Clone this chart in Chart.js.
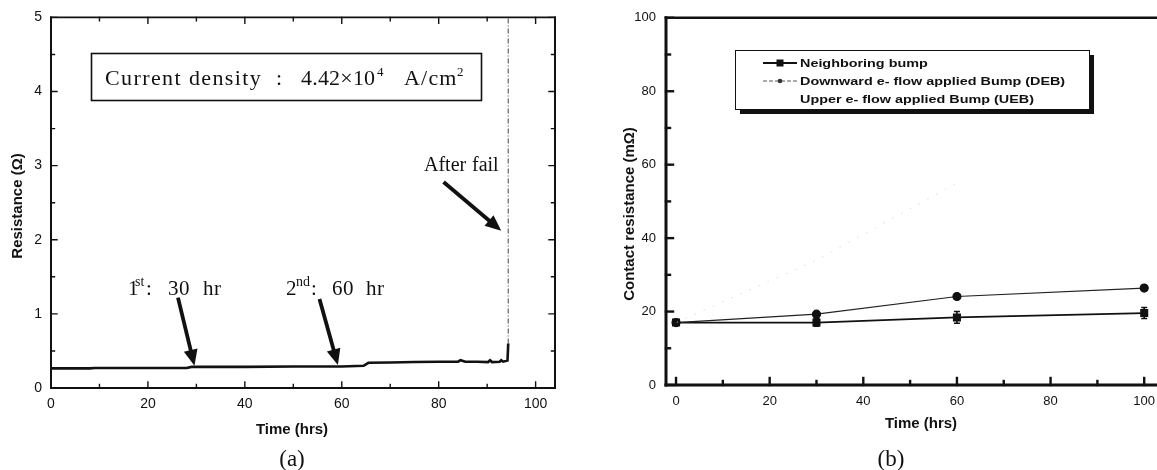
<!DOCTYPE html>
<html><head><meta charset="utf-8">
<script src="https://cdn.jsdelivr.net/npm/chart.js@4.4.1/dist/chart.umd.min.js"></script>
<style>
html,body{margin:0;padding:0;background:#fff;}
#wrap{position:relative;width:1157px;height:470px;overflow:hidden;background:#fff;}
canvas{position:absolute;top:0;}
#ca{left:0;} #cb{left:580px;}
</style></head><body>
<div id="wrap"><canvas id="ca" width="580" height="470"></canvas><canvas id="cb" width="600" height="470"></canvas></div>
<script>
// ---------- data: panel (a) ----------
const timeA = [0, 8, 9, 28, 29, 40, 50, 60, 64.5, 65.5, 70, 75, 80, 84, 84.5, 85.5, 88, 90.2, 90.6, 91, 92.6, 92.9, 93.3, 94.2, 94.35];
const resistanceA = [0.265, 0.265, 0.27, 0.27, 0.285, 0.285, 0.29, 0.29, 0.30, 0.34, 0.345, 0.35, 0.355, 0.355, 0.375, 0.355, 0.355, 0.35, 0.375, 0.35, 0.355, 0.375, 0.355, 0.37, 0.6];
const failTimeA = [94.35, 94.35];
const failResA = [0.6, 5.0];
const xTicksA = [0, 20, 40, 60, 80, 100];
const xMinorA = [10, 30, 50, 70, 90];
const yTicksA = [0, 1, 2, 3, 4, 5];
const yMinorA = [0.5, 1.5, 2.5, 3.5, 4.5];

// ---------- data: panel (b) ----------
const hoursB = [0, 30, 60, 100];
const neighborB = [17, 17, 18.4, 19.6];
const neighborErrB = [0.6, 1.0, 1.6, 1.5];
const debB = [17, 19.3, 24.1, 26.4];
const uebB = [17, 34, 55, null];
const xTicksB = [0, 20, 40, 60, 80, 100];
const xMinorB = [10, 30, 50, 70, 90];
const yTicksB = [0, 20, 40, 60, 80, 100];
const yMinorB = [10, 30, 50, 70, 90];
const seriesNamesB = ['Neighboring bump', 'Downward e- flow applied Bump (DEB)', 'Upper e- flow applied Bump (UEB)'];

const SANS = "'Liberation Sans', Arial, sans-serif";
const SERIF = "'Liberation Serif', 'DejaVu Serif', serif";
const INK = '#111';

function pts(xs, ys) { return xs.map((x, i) => ({x, y: ys[i]})); }

// place text pieces: [text, x, sup, spacing]
function pieces(ctx, list, baseline, size, supScale) {
  ctx.textBaseline = 'alphabetic';
  ctx.textAlign = 'left';
  for (const [t, x, sup, sp] of list) {
    const fs = sup ? Math.round(size * (supScale || 0.62)) : size;
    ctx.font = fs + 'px ' + SERIF;
    ctx.letterSpacing = (sp || 0) + 'px';
    ctx.fillText(t, x, sup ? baseline - size * 0.42 : baseline);
  }
  ctx.letterSpacing = '0px';
}

function arrow(ctx, x0, y0, x1, y1, lw, hl, hw) {
  const ang = Math.atan2(y1 - y0, x1 - x0);
  const bx = x1 - Math.cos(ang) * hl, by = y1 - Math.sin(ang) * hl;
  ctx.save();
  ctx.strokeStyle = INK; ctx.fillStyle = INK; ctx.lineWidth = lw; ctx.lineCap = 'butt';
  ctx.beginPath(); ctx.moveTo(x0, y0); ctx.lineTo(bx + Math.cos(ang) * 2, by + Math.sin(ang) * 2); ctx.stroke();
  ctx.beginPath();
  ctx.moveTo(x1, y1);
  ctx.lineTo(bx + Math.sin(ang) * hw, by - Math.cos(ang) * hw);
  ctx.lineTo(bx - Math.sin(ang) * hw, by + Math.cos(ang) * hw);
  ctx.closePath(); ctx.fill();
  ctx.restore();
}

// frame + inward ticks
const framePlugin = {
  id: 'frame',
  afterDatasetsDraw(chart, args, o) {
    const {ctx, chartArea: a, scales: {x, y}} = chart;
    ctx.save();
    ctx.strokeStyle = INK;
    ctx.lineCap = 'square';
    const tick = (axis, v, len, lw) => {
      ctx.lineWidth = lw;
      ctx.beginPath();
      if (axis === 'x') {
        const p = x.getPixelForValue(v);
        if (o.sides.includes('b')) { ctx.moveTo(p, a.bottom); ctx.lineTo(p, a.bottom - len); }
        if (o.sides.includes('t')) { ctx.moveTo(p, a.top); ctx.lineTo(p, a.top + len); }
      } else {
        const p = y.getPixelForValue(v);
        if (o.sides.includes('l')) { ctx.moveTo(a.left, p); ctx.lineTo(a.left + len, p); }
        if (o.sides.includes('r')) { ctx.moveTo(a.right, p); ctx.lineTo(a.right - len, p); }
      }
      ctx.stroke();
    };
    o.xMajor.forEach(v => tick('x', v, o.major, o.tickW));
    o.xMinor.forEach(v => tick('x', v, o.minor, o.tickW));
    o.yMajor.forEach(v => tick('y', v, o.major, o.tickW));
    o.yMinor.forEach(v => tick('y', v, o.minor, o.tickW));
    const side = (x0, y0, x1, y1, lw) => { ctx.lineWidth = lw; ctx.beginPath(); ctx.moveTo(x0, y0); ctx.lineTo(x1, y1); ctx.stroke(); };
    side(a.left, a.top, a.right, a.top, o.frame.t);
    side(a.right, a.top, a.right, a.bottom, o.frame.r);
    side(a.left, a.bottom, a.right, a.bottom, o.frame.b);
    side(a.left, a.top, a.left, a.bottom, o.frame.l);
    ctx.restore();
  }
};

// axis titles and panel labels
const labelsPlugin = {
  id: 'labels',
  afterDraw(chart, args, o) {
    const {ctx} = chart;
    ctx.save();
    ctx.fillStyle = INK;
    ctx.font = 'bold 15px ' + SANS;
    ctx.textAlign = 'center'; ctx.textBaseline = 'middle';
    ctx.fillText(o.xTitle, o.xTitlePos[0], o.xTitlePos[1]);
    ctx.save();
    ctx.translate(o.yTitlePos[0], o.yTitlePos[1]);
    ctx.rotate(-Math.PI / 2);
    ctx.fillText(o.yTitle, 0, 0);
    ctx.restore();
    ctx.font = '23px ' + SERIF;
    ctx.fillText(o.panel, o.panelPos[0], o.panelPos[1]);
    ctx.restore();
  }
};

// ---------- panel (a) annotations ----------
const annotA = {
  id: 'annotA',
  afterDraw(chart) {
    const {ctx, scales: {x, y}} = chart;
    ctx.save();
    ctx.fillStyle = INK; ctx.strokeStyle = INK;
    // text box
    ctx.lineWidth = 1.6;
    ctx.strokeRect(91.5, 53.5, 390, 47);
    pieces(ctx, [['Current density', 105, false, 1.4], [':', 276], ['4.42\u00d710', 301, false, 0.2], ['4', 377, true], ['A/cm', 404, false, 1.2], ['2', 457, true]], 85, 22, 0.6);
    // labels
    pieces(ctx, [['1', 128], ['st', 135, true], [':', 146], ['30', 168, false, 0.5], ['hr', 203, false, 0.5]], 295, 21, 0.66);
    pieces(ctx, [['2', 286], ['nd', 296, true], [':', 311], ['60', 332, false, 0.5], ['hr', 366, false, 0.5]], 295, 21, 0.66);
    pieces(ctx, [['After', 424], ['fail', 472]], 171, 20);
    // arrows (data coordinates)
    const A = (x0, y0, x1, y1) => arrow(ctx, x.getPixelForValue(x0), y.getPixelForValue(y0), x.getPixelForValue(x1), y.getPixelForValue(y1), 3.8, 16, 7);
    A(26.2, 1.22, 29.6, 0.30);
    A(55.4, 1.20, 59.2, 0.31);
    A(81.0, 2.78, 92.9, 2.12);
    ctx.restore();
  }
};

const chartA = new Chart(document.getElementById('ca'), {
  type: 'scatter',
  data: {
    datasets: [
      {label: 'Resistance', data: pts(timeA, resistanceA), showLine: true, borderColor: INK, borderWidth: 2.6, pointRadius: 0, tension: 0},
      {label: 'After fail', data: pts(failTimeA, failResA), showLine: true, borderColor: '#555', borderWidth: 1.1, borderDash: [5, 2, 1, 2], pointRadius: 0}
    ]
  },
  options: {
    responsive: false, animation: false, devicePixelRatio: 1,
    layout: {padding: {left: 0, right: 25, top: 16, bottom: 0}},
    plugins: {
      legend: {display: false}, tooltip: {enabled: false},
      frame: {sides: 'btlr', xMajor: xTicksA, xMinor: xMinorA, yMajor: yTicksA, yMinor: yMinorA, major: 6, minor: 3.5, tickW: 1.4, frame: {t: 1.6, r: 2, b: 2, l: 2}},
      labels: {xTitle: 'Time (hrs)', xTitlePos: [292, 430], yTitle: 'Resistance (\u03a9)', yTitlePos: [18, 206], panel: '(a)', panelPos: [292, 460]}
    },
    scales: {
      x: {type: 'linear', min: 0, max: 104,
        grid: {display: false, drawTicks: false}, border: {display: false},
        ticks: {color: INK, font: {family: SANS, size: 14}, padding: 8},
        afterBuildTicks: s => { s.ticks = xTicksA.map(v => ({value: v})); },
        afterFit: s => { s.height = 82; }},
      y: {type: 'linear', min: 0, max: 5,
        grid: {display: false, drawTicks: false}, border: {display: false},
        ticks: {color: INK, font: {family: SANS, size: 14}, padding: 9},
        afterBuildTicks: s => { s.ticks = yTicksA.map(v => ({value: v})); },
        afterFit: s => { s.width = 51; }}
    }
  },
  plugins: [framePlugin, labelsPlugin, annotA]
});

// ---------- panel (b) ----------
const errBarsB = {
  id: 'errBarsB',
  afterDatasetsDraw(chart) {
    const {ctx, scales: {x, y}} = chart;
    ctx.save();
    ctx.strokeStyle = INK; ctx.lineWidth = 1.6;
    hoursB.forEach((h, i) => {
      const px = x.getPixelForValue(h);
      const y0 = y.getPixelForValue(neighborB[i] - neighborErrB[i]);
      const y1 = y.getPixelForValue(neighborB[i] + neighborErrB[i]);
      ctx.beginPath();
      ctx.moveTo(px, y0); ctx.lineTo(px, y1);
      ctx.moveTo(px - 3, y0); ctx.lineTo(px + 3, y0);
      ctx.moveTo(px - 3, y1); ctx.lineTo(px + 3, y1);
      ctx.stroke();
    });
    ctx.restore();
  }
};

const legendB = {
  id: 'legendB',
  afterDraw(chart) {
    const {ctx} = chart;
    const L = 155, T = 50, W = 354, H = 59;
    ctx.save();
    ctx.fillStyle = INK;
    ctx.fillRect(L + 5, T + H, W, 5);
    ctx.fillRect(L + W, T + 5, 5, H);
    ctx.fillStyle = '#fff';
    ctx.fillRect(L, T, W, H);
    ctx.strokeStyle = INK; ctx.lineWidth = 1;
    ctx.strokeRect(L + 0.5, T + 0.5, W, H);
    // symbols
    const rows = [67, 85, 103];
    ctx.lineWidth = 1.8; ctx.strokeStyle = INK;
    ctx.beginPath(); ctx.moveTo(183, rows[0] - 4); ctx.lineTo(217, rows[0] - 4); ctx.stroke();
    ctx.fillStyle = INK; ctx.fillRect(196.5, rows[0] - 7.5, 7, 7);
    ctx.lineWidth = 1; ctx.strokeStyle = '#555'; ctx.setLineDash([4, 2]);
    ctx.beginPath(); ctx.moveTo(183, rows[1] - 4); ctx.lineTo(217, rows[1] - 4); ctx.stroke();
    ctx.setLineDash([]);
    ctx.fillStyle = '#333'; ctx.beginPath(); ctx.arc(200, rows[1] - 4, 2.3, 0, Math.PI * 2); ctx.fill();
    // text (horizontally widened like the original)
    ctx.fillStyle = INK;
    ctx.font = 'bold 11.5px ' + SANS;
    ctx.textAlign = 'left'; ctx.textBaseline = 'alphabetic';
    seriesNamesB.forEach((n, i) => {
      ctx.save();
      ctx.translate(220, rows[i]);
      ctx.scale(1.25, 1);
      ctx.fillText(n, 0, 0);
      ctx.restore();
    });
    ctx.restore();
  }
};

const chartB = new Chart(document.getElementById('cb'), {
  type: 'scatter',
  data: {
    datasets: [
      {label: seriesNamesB[2], data: pts(hoursB, uebB), showLine: true, borderColor: '#e2e2e2', borderWidth: 1, borderDash: [2, 8], pointRadius: 0, spanGaps: false},
      {label: seriesNamesB[1], data: pts(hoursB, debB), showLine: true, borderColor: '#222', borderWidth: 1.2, pointRadius: 4, pointStyle: 'circle', pointBackgroundColor: INK, pointBorderColor: INK},
      {label: seriesNamesB[0], data: pts(hoursB, neighborB), showLine: true, borderColor: INK, borderWidth: 1.7, pointRadius: 4.5, pointStyle: 'rect', pointBackgroundColor: INK, pointBorderColor: INK}
    ]
  },
  options: {
    responsive: false, animation: false, devicePixelRatio: 1,
    layout: {padding: {left: 0, right: 18, top: 16, bottom: 0}},
    plugins: {
      legend: {display: false}, tooltip: {enabled: false},
      frame: {sides: 'bl', xMajor: xTicksB, xMinor: xMinorB, yMajor: yTicksB, yMinor: yMinorB, major: 7, minor: 4, tickW: 2.4, frame: {t: 2.4, r: 2.4, b: 3, l: 3}},
      labels: {xTitle: 'Time (hrs)', xTitlePos: [341, 424], yTitle: 'Contact resistance (m\u03a9)', yTitlePos: [50, 214], panel: '(b)', panelPos: [311, 460]}
    },
    scales: {
      x: {type: 'linear', min: -2.14, max: 103.8,
        grid: {display: false, drawTicks: false}, border: {display: false},
        ticks: {color: INK, font: {family: SANS, size: 13}, padding: 9},
        afterBuildTicks: s => { s.ticks = xTicksB.map(v => ({value: v})); },
        afterFit: s => { s.height = 85; }},
      y: {type: 'linear', min: 0, max: 100,
        grid: {display: false, drawTicks: false}, border: {display: false},
        ticks: {color: INK, font: {family: SANS, size: 13}, padding: 10},
        afterBuildTicks: s => { s.ticks = yTicksB.map(v => ({value: v})); },
        afterFit: s => { s.width = 86; }}
    }
  },
  plugins: [framePlugin, errBarsB, labelsPlugin, legendB]
});
</script>
</body></html>
